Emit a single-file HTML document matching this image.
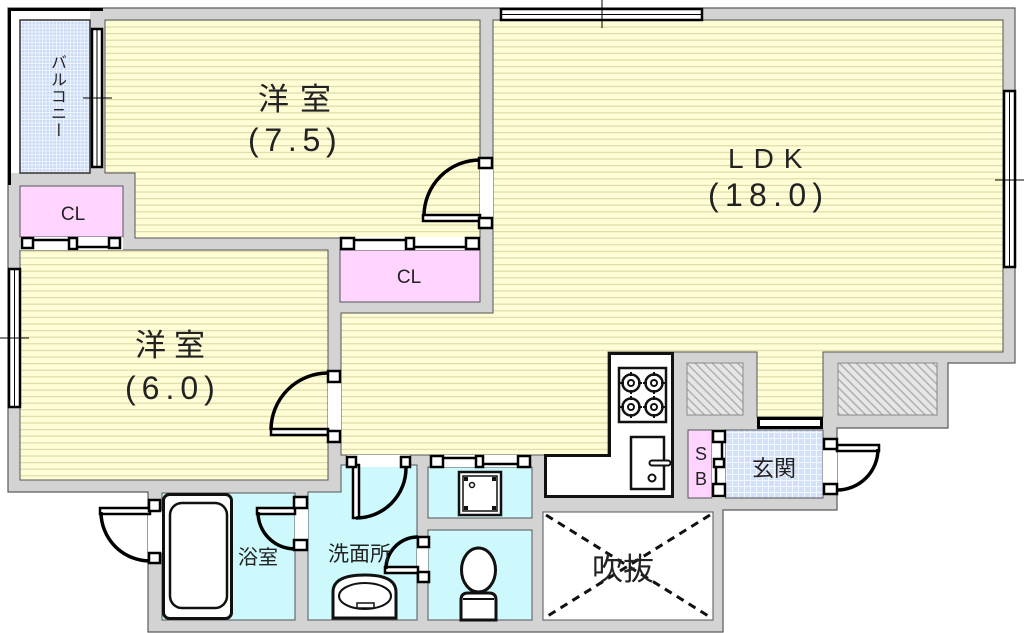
<!DOCTYPE html>
<html><head><meta charset="utf-8">
<style>
html,body{margin:0;padding:0;background:#fff;}
body{width:1024px;height:633px;overflow:hidden;position:relative;}
svg{position:absolute;left:0;top:0;}
.t{font-family:"Liberation Sans","Noto Sans CJK JP",sans-serif;fill:#222;}
.v{position:absolute;left:47px;top:54px;writing-mode:vertical-rl;font-family:"Liberation Sans","Noto Sans CJK JP",sans-serif;font-size:16px;line-height:18px;color:#222;letter-spacing:1px;}
</style></head><body>
<svg width="1024" height="633" viewBox="0 0 1024 633">
<defs>
<pattern id="yl2" width="10" height="6.6" patternUnits="userSpaceOnUse">
<rect width="10" height="6.6" fill="#fffdd6"/>
<rect y="0" width="10" height="1.2" fill="#dddba9"/>
</pattern>
<pattern id="tile" width="6" height="6" patternUnits="userSpaceOnUse">
<rect width="6" height="6" fill="#d3e1f8"/>
<path d="M0 0.5H6M0.5 0V6" stroke="#f3f7ff" stroke-width="1"/>
</pattern>
<pattern id="btile" width="3.5" height="3.5" patternUnits="userSpaceOnUse">
<rect width="3.5" height="3.5" fill="#cbdaf6"/>
<path d="M0 0.5H3.5M0.5 0V3.5" stroke="#eef3fc" stroke-width="1"/>
</pattern>
<pattern id="hatch" width="6" height="6" patternUnits="userSpaceOnUse" patternTransform="rotate(-45)">
<rect width="6" height="6" fill="#e6e6e6"/>
<rect width="1.5" height="6" fill="#b0b0b0"/>
</pattern>
</defs>

<!-- building footprint (walls) -->
<path d="M8 8H1015V363H948V428H837V510H723V632H148V492H8Z" fill="#d3d3d3" stroke="#5a5a5a" stroke-width="1.2"/>

<!-- balcony -->
<rect x="11" y="11" width="79" height="162" fill="#fff"/>
<rect x="20" y="20" width="70" height="153" fill="url(#btile)" stroke="#333" stroke-width="1.5"/>
<path d="M9.5 185V9.5H103" fill="none" stroke="#000" stroke-width="3"/>

<!-- rooms -->
<path d="M105 20H480V238H135V173H105Z" fill="url(#yl2)" stroke="#555" stroke-width="1"/>
<path d="M493 20H1003V352H823V417H757V352H608V455H341V313H493Z" fill="url(#yl2)" stroke="#555" stroke-width="1"/>
<rect x="20" y="250" width="308" height="230" fill="url(#yl2)" stroke="#555" stroke-width="1"/>
<rect x="20" y="186" width="103" height="51" fill="#ffd4ff" stroke="#555" stroke-width="1"/>
<rect x="340" y="250" width="140" height="52" fill="#ffd4ff" stroke="#555" stroke-width="1"/>
<rect x="20" y="237" width="103" height="13" fill="#fff"/>
<rect x="340" y="237" width="140" height="13" fill="#fff"/>

<rect x="162" y="493" width="133" height="127" fill="#cdf8fc" stroke="#555" stroke-width="1"/>
<path d="M341 465H417V620H308V492H341Z" fill="#cdf8fc" stroke="#555" stroke-width="1"/>
<rect x="428" y="467" width="104" height="51" fill="#cdf8fc" stroke="#555" stroke-width="1"/>
<rect x="428" y="530" width="104" height="90" fill="#cdf8fc" stroke="#555" stroke-width="1"/>
<rect x="543" y="512" width="170" height="108" fill="#fff" stroke="#555" stroke-width="1"/>
<rect x="687" y="363" width="56" height="52" fill="url(#hatch)" stroke="#888" stroke-width="1"/>
<rect x="838" y="363" width="99" height="52" fill="url(#hatch)" stroke="#888" stroke-width="1"/>
<rect x="725" y="430" width="98" height="68" fill="url(#tile)" stroke="#555" stroke-width="1"/>
<rect x="688" y="430" width="24" height="68" fill="#ffd4ff" stroke="#555" stroke-width="1"/>
<rect x="712" y="430" width="13" height="68" fill="#fff"/>
<rect x="758.5" y="418.5" width="63" height="9" fill="#fff" stroke="#000" stroke-width="3"/>

<!-- door openings -->
<g fill="#fff">
<rect x="480" y="168" width="13" height="50"/>
<rect x="328" y="382" width="13" height="48"/>
<rect x="347" y="455" width="63" height="12"/>
<rect x="430" y="455" width="100" height="12"/>
<rect x="295" y="508" width="13" height="32"/>
<rect x="417" y="547" width="11" height="25"/>
<rect x="823" y="450" width="14" height="33"/>
<rect x="148" y="511" width="14" height="42"/>
</g>

<!-- windows -->
<g fill="#fff" stroke="#000" stroke-width="2.5">
<rect x="501" y="9" width="201" height="11"/>
<rect x="1004" y="91" width="11" height="176"/>
<rect x="9" y="269" width="11" height="138"/>
<rect x="92" y="29" width="10" height="138"/>
</g>
<g stroke="#000" stroke-width="1" fill="none">
<path d="M502 14.5H701M602 0V28"/>
<path d="M1009.5 92V266M995 180H1024"/>
<path d="M14.5 270V406M0 338H29"/>
<path d="M97 30V166M83 98H112"/>
</g>

<!-- swing doors -->
<g fill="#fff" stroke="#000" stroke-width="2.5">
<rect x="423" y="215" width="57" height="6"/>
<rect x="271" y="429" width="57" height="6"/>
<rect x="353" y="465" width="6" height="53"/>
<rect x="100" y="508" width="50" height="6"/>
<rect x="257" y="508" width="38" height="6"/>
<rect x="385" y="567" width="33" height="6"/>
<rect x="837" y="445" width="42" height="6"/>
</g>
<g fill="none" stroke="#000" stroke-width="3.5">
<path d="M424 216A56 56 0 0 1 480 160"/>
<path d="M271 430A57 57 0 0 1 328 373"/>
<path d="M356 518A50 50 0 0 0 406 468"/>
<path d="M101 512A49 49 0 0 0 150 561"/>
<path d="M258 512A37 37 0 0 0 295 549"/>
<path d="M386 569A32 32 0 0 1 418 537"/>
<path d="M878 449A41 41 0 0 1 837 490"/>
</g>

<!-- sliding door lines -->
<g fill="none" stroke="#000" stroke-width="2.5">
<path d="M33 240H69M77 247H109"/>
<path d="M354 240H406M414 247H466"/>
<path d="M443 458H476M483 464H518"/>
<path d="M722 442V459M716 467V484"/>
</g>

<!-- brackets -->
<g fill="#fff" stroke="#000" stroke-width="2.5">
<rect x="479" y="158" width="13" height="10"/>
<rect x="479" y="218" width="13" height="10"/>
<rect x="328" y="371" width="12" height="11"/>
<rect x="328" y="431" width="12" height="11"/>
<rect x="347" y="457" width="9" height="10"/>
<rect x="401" y="457" width="9" height="10"/>
<rect x="149" y="500" width="11" height="11"/>
<rect x="149" y="553" width="11" height="10"/>
<rect x="294" y="497" width="13" height="11"/>
<rect x="294" y="540" width="13" height="10"/>
<rect x="418" y="537" width="11" height="10"/>
<rect x="418" y="572" width="11" height="10"/>
<rect x="824" y="439" width="13" height="10"/>
<rect x="824" y="484" width="13" height="10"/>
<rect x="22" y="238" width="11" height="10"/>
<rect x="69" y="238" width="8" height="11"/>
<rect x="109" y="238" width="11" height="10"/>
<rect x="341" y="238" width="13" height="11"/>
<rect x="406" y="238" width="8" height="11"/>
<rect x="466" y="238" width="13" height="11"/>
<rect x="431" y="456" width="12" height="11"/>
<rect x="476" y="456" width="7" height="11"/>
<rect x="518" y="456" width="12" height="11"/>
<rect x="713" y="431" width="12" height="11"/>
<rect x="714" y="459" width="10" height="8"/>
<rect x="713" y="484" width="12" height="12"/>
</g>

<!-- kitchen -->
<path d="M609.5 353.5H672.5V496.5H545.5V455.5H609.5Z" fill="#fff" stroke="#111" stroke-width="3"/>
<rect x="619" y="368" width="47" height="54" fill="#fff" stroke="#111" stroke-width="2.5"/>
<g fill="#fff" stroke="#111" stroke-width="2.5">
<circle cx="631" cy="383" r="8.5"/>
<circle cx="654" cy="383" r="8.5"/>
<circle cx="631" cy="407" r="8.5"/>
<circle cx="654" cy="407" r="8.5"/>
</g>
<g fill="none" stroke="#111" stroke-width="2">
<circle cx="631" cy="383" r="3"/>
<circle cx="654" cy="383" r="3"/>
<circle cx="631" cy="407" r="3"/>
<circle cx="654" cy="407" r="3"/>
<path d="M631 372V376M631 390V394M620 383H624M638 383H642"/>
<path d="M654 372V376M654 390V394M643 383H647M661 383H665"/>
<path d="M631 396V400M631 414V418M620 407H624M638 407H642"/>
<path d="M654 396V400M654 414V418M643 407H647M661 407H665"/>
</g>
<rect x="631" y="437" width="33" height="52" fill="#fff" stroke="#111" stroke-width="2.5"/>
<path d="M652 463H668" stroke="#111" stroke-width="7" stroke-linecap="round"/>
<path d="M652 463H668" stroke="#fff" stroke-width="3" stroke-linecap="round"/>
<circle cx="652" cy="478" r="3.5" fill="#fff" stroke="#111" stroke-width="2"/>

<!-- washer pan -->
<rect x="459" y="472" width="42" height="43" fill="#fff" stroke="#111" stroke-width="2.5"/>
<rect x="463" y="476" width="34" height="35" fill="#fff" stroke="#111" stroke-width="1.5"/>
<g fill="#111">
<rect x="464" y="477" width="4" height="4"/>
<rect x="492" y="477" width="4" height="4"/>
<rect x="464" y="506" width="4" height="4"/>
<rect x="492" y="506" width="4" height="4"/>
</g>
<circle cx="472" cy="485" r="2.5" fill="#fff" stroke="#111" stroke-width="1.5"/>

<!-- toilet -->
<ellipse cx="478.5" cy="570" rx="17" ry="22" fill="#fff" stroke="#111" stroke-width="3"/>
<path d="M461 620V600Q461 593 468 593H489Q496 593 496 600V620Z" fill="#fff" stroke="#111" stroke-width="3"/>
<path d="M463 599H494" stroke="#111" stroke-width="2"/>

<!-- washbasin -->
<path d="M333 618V592Q333 575 365 575Q396 575 396 592V618Z" fill="#fff" stroke="#111" stroke-width="3"/>
<ellipse cx="365" cy="596" rx="26" ry="13" fill="#fff" stroke="#111" stroke-width="2"/>
<rect x="357" y="603" width="17" height="5" fill="#fff" stroke="#111" stroke-width="1.5"/>

<!-- bathtub -->
<rect x="163.5" y="494.5" width="68" height="124" rx="6" fill="#fff" stroke="#111" stroke-width="3"/>
<rect x="170" y="503" width="57" height="105" rx="12" fill="#fff" stroke="#111" stroke-width="2.5"/>

<!-- fukinuke X -->
<path d="M546 515L710 617M710 515L546 617" stroke="#111" stroke-width="3" stroke-dasharray="8 6" fill="none"/>

<!-- labels -->
<g class="t">
<text x="258" y="110" font-size="31">洋</text>
<text x="300" y="110" font-size="31">室</text>
<text x="248" y="151" font-size="32" letter-spacing="5.7">(7.5)</text>
<text x="728" y="168" font-size="28" letter-spacing="10">LDK</text>
<text x="708" y="206" font-size="32" letter-spacing="6.3">(18.0)</text>
<text x="135" y="356" font-size="31">洋</text>
<text x="174" y="356" font-size="31">室</text>
<text x="125" y="399" font-size="32" letter-spacing="6">(6.0)</text>
<text x="73" y="220" font-size="19" text-anchor="middle">CL</text>
<text x="409" y="283" font-size="19" text-anchor="middle">CL</text>
<text x="238" y="564" font-size="20">浴室</text>
<text x="328" y="561" font-size="21">洗面所</text>
<text x="752" y="476" font-size="22">玄関</text>
<text x="701" y="460" font-size="18" text-anchor="middle">S</text>
<text x="701" y="485" font-size="18" text-anchor="middle">B</text>
<text x="592" y="580" font-size="31">吹抜</text>
</g>
</svg>
<div class="v">バルコニー</div>
</body></html>
